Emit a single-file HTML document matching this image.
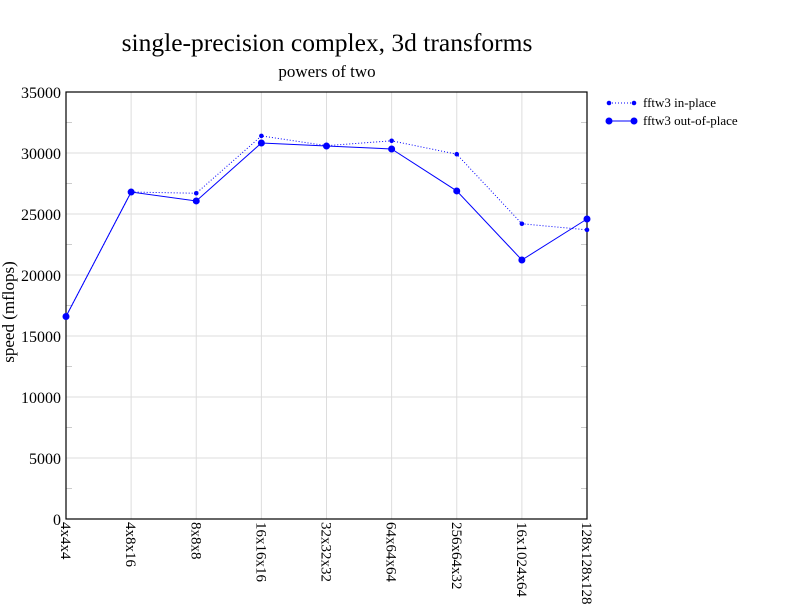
<!DOCTYPE html>
<html><head><meta charset="utf-8"><style>
body{margin:0;background:#fff}
svg{display:block;font-family:"Liberation Serif",serif}
</style></head><body>
<svg id="chart" width="792" height="612">
<text x="327" y="51" font-size="25.5" text-anchor="middle">single-precision complex, 3d transforms</text>
<text x="327" y="77" font-size="17" text-anchor="middle">powers of two</text>
<text transform="translate(14,312) rotate(-90)" font-size="17" text-anchor="middle">speed (mflops)</text>
<g id="grid"></g><g id="axes"></g><g id="series"></g>
<g>
<line x1="609" y1="103" x2="634" y2="103" stroke="#00f" stroke-dasharray="1,2"/>
<circle cx="609" cy="103" r="2.3" fill="#00f"/><circle cx="634" cy="103" r="2.3" fill="#00f"/>
<text x="643" y="107" font-size="13">fftw3 in-place</text>
<line x1="609" y1="121" x2="634" y2="121" stroke="#00f"/>
<circle cx="609" cy="121" r="3.5" fill="#00f"/><circle cx="634" cy="121" r="3.5" fill="#00f"/>
<text x="643" y="125" font-size="13">fftw3 out-of-place</text>
</g>
</svg>
<script>
const categories=["4x4x4","4x8x16","8x8x8","16x16x16","32x32x32","64x64x64","256x64x32","16x1024x64","128x128x128"];
const inPlace=[16600,26800,26700,31400,30600,31000,29900,24200,23700];
const outOfPlace=[16600,26800,26070,30820,30570,30330,26890,21230,24590];
const yTicks=[0,5000,10000,15000,20000,25000,30000,35000];
const X0=66,X1=587,Y0=519,Y1=92,YMAX=35000;
const ns="http://www.w3.org/2000/svg";
const xs=i=>X0+(X1-X0)*i/(categories.length-1);
const ys=v=>Y0-(Y0-Y1)*v/YMAX;
function mk(p,t,a){const e=document.createElementNS(ns,t);for(const k in a)e.setAttribute(k,a[k]);p.appendChild(e);return e;}
const grid=document.getElementById('grid'),axes=document.getElementById('axes'),ser=document.getElementById('series');
yTicks.forEach(v=>{
 const l=mk(grid,'line',{x1:X0,x2:X1,y1:ys(v),y2:ys(v),stroke:'#ddd'});
 
 
 const t=mk(axes,'text',{x:X0-5,y:ys(v)+6,'font-size':16,'text-anchor':'end'});t.textContent=v;
 
 
 if(v<YMAX){mk(axes,'line',{x1:X0,x2:X0+6,y1:ys(v+2500),y2:ys(v+2500),stroke:'#ccc'});mk(axes,'line',{x1:X1,x2:X1-6,y1:ys(v+2500),y2:ys(v+2500),stroke:'#ccc'});}
});
categories.forEach((c,i)=>{
 const l=mk(grid,'line',{x1:xs(i),x2:xs(i),y1:Y1,y2:Y0,stroke:'#ddd'});
 
 
 const t=mk(axes,'text',{transform:`translate(${xs(i)-5},${Y0+3}) rotate(90)`,'font-size':15});t.textContent=c;
 
 
});
const fr=mk(axes,'rect',{x:X0,y:Y1,width:X1-X0,height:Y0-Y1,fill:'none',stroke:'#000','stroke-width':1.2});


function draw(vals,dash,r,name){
 const pl=mk(ser,'polyline',{points:vals.map((v,i)=>xs(i)+','+ys(v)).join(' '),fill:'none',stroke:'#00f','stroke-width':1,'stroke-dasharray':dash});
 
 
 vals.forEach((v,i)=>{const c=mk(ser,'circle',{cx:xs(i),cy:ys(v),r:r,fill:'#00f'});
  
  });
}
draw(inPlace,'1,2',2.3,'in-place');
draw(outOfPlace,'none',3.5,'out-of-place');
</script>
</body></html>
